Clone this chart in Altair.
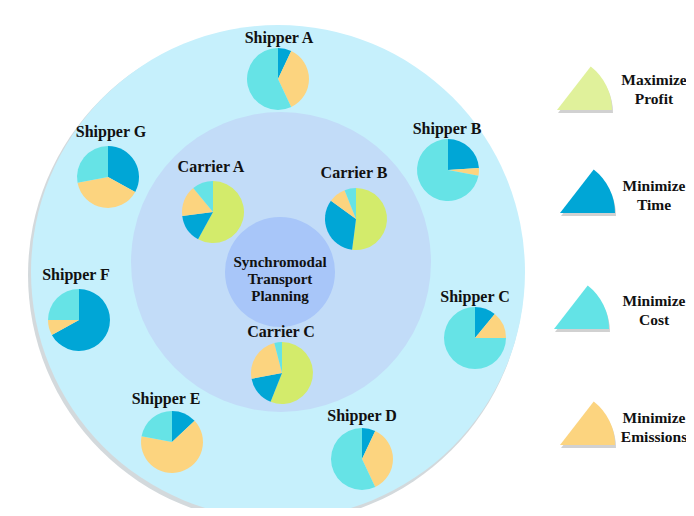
import math
import altair as alt
import pandas as pd

# ---------------- data ----------------
names = ["Shipper A", "Shipper B", "Shipper C", "Shipper D", "Shipper E",
         "Shipper F", "Shipper G", "Carrier A", "Carrier B", "Carrier C"]
objectives = ["Maximize Profit", "Minimize Time", "Minimize Emissions", "Minimize Cost"]
profit    = [0, 0, 0, 0, 0, 0, 0, 58, 52, 56]
time_     = [7, 24, 11, 7, 13, 67, 33, 15, 33, 16]
emissions = [36, 4, 14, 36, 65, 8, 39, 16, 9, 24]
cost      = [57, 72, 75, 57, 22, 25, 28, 11, 6, 4]

legend_line1 = ["Maximize", "Minimize", "Minimize", "Minimize"]
legend_line2 = ["Profit", "Time", "Cost", "Emissions"]
center_lines = ["Synchromodal", "Transport", "Planning"]

# ---------------- layout (reference pixel coordinates) ----------------
pie_x   = [278, 448, 475, 362, 172, 79, 108, 213, 356, 282]
pie_y   = [79, 170, 338, 459, 442, 320, 177, 212, 219, 373]
label_x = [279, 447, 475, 362, 166, 76, 111, 211, 354, 281]
label_y = [38, 129, 297, 416, 399, 275, 132, 167, 173, 332]
pie_r = 31

ring_x = [276, 278, 281, 280]
ring_y = [275, 272, 262, 272]
ring_r = [248, 247, 150, 55]
ring_col = ["#d3d9dc", "#c6f0fc", "#c2dcf8", "#a8c6f9"]

leg_x = [557, 560, 554, 560]
leg_y = [110, 213, 329, 445]
leg_text_x = 654
leg_text_y1 = [80, 186, 301, 418]
leg_text_y2 = [99, 205, 320, 437]
leg_col = ["#e0f19b", "#00a6d6", "#63e3e6", "#fcd47f"]
leg_r = 55

center_text_y = [262, 279, 296]

obj_colors = {"Maximize Profit": "#d3eb6b", "Minimize Time": "#00a6d6",
              "Minimize Emissions": "#fcd47f", "Minimize Cost": "#66e3e6"}

W, H = 678, 500
FONT = "Liberation Serif"

xs = alt.Scale(domain=[8, 8 + W], nice=False, zero=False)
ys = alt.Scale(domain=[8, 8 + H], nice=False, zero=False, reverse=True)

def X(f):
    return alt.X(f, type="quantitative", scale=xs, axis=None)

def Y(f):
    return alt.Y(f, type="quantitative", scale=ys, axis=None)

# background rings
rings = pd.DataFrame({"x": ring_x, "y": ring_y, "r": ring_r, "col": ring_col})
ring_layer = alt.Chart(rings).mark_arc(theta=0, theta2=2 * math.pi).encode(
    x=X("x"), y=Y("y"),
    radius=alt.Radius("r:Q", scale=None, stack=None),
    color=alt.Color("col:N", scale=None),
)

# pies
rows = []
for i, n in enumerate(names):
    vals = [profit[i], time_[i], emissions[i], cost[i]]
    for k, (obj, v) in enumerate(zip(objectives, vals)):
        rows.append({"name": n, "obj": obj, "k": k, "v": v,
                     "x": pie_x[i], "y": pie_y[i], "col": obj_colors[obj]})
pies = pd.DataFrame(rows)

pie_layer = alt.Chart(pies).transform_joinaggregate(
    total="sum(v)", groupby=["name"]
).transform_window(
    cum="sum(v)", groupby=["name"], sort=[alt.SortField("k")], frame=[None, 0]
).transform_calculate(
    t0="(datum.cum - datum.v) / datum.total * 2 * PI",
    t1="datum.cum / datum.total * 2 * PI",
).mark_arc(radius=pie_r).encode(
    x=X("x"), y=Y("y"),
    theta=alt.Theta("t0:Q", scale=None, stack=None),
    theta2=alt.Theta2("t1:Q"),
    color=alt.Color("col:N", scale=None),
)

labels = pd.DataFrame({"name": names, "x": label_x, "y": label_y})
label_layer = alt.Chart(labels).mark_text(
    font=FONT, fontWeight="bold", fontSize=16, color="#111111",
    baseline="middle", align="center"
).encode(x=X("x"), y=Y("y"), text="name:N")

centre = pd.DataFrame({"t": center_lines, "x": [280] * 3, "y": center_text_y})
centre_layer = alt.Chart(centre).mark_text(
    font=FONT, fontWeight="bold", fontSize=15, color="#111111",
    baseline="middle", align="center"
).encode(x=X("x"), y=Y("y"), text="t:N")

# legend wedges
leg = pd.DataFrame({"x": leg_x, "y": leg_y, "col": leg_col,
                    "sx": [v + 1 for v in leg_x], "sy": [v + 3 for v in leg_y]})
leg_shadow = alt.Chart(leg).mark_arc(
    radius=leg_r, theta=0.66, theta2=math.pi / 2, color="#9a9a9a", opacity=0.45
).encode(x=X("sx"), y=Y("sy"))
leg_layer = alt.Chart(leg).mark_arc(
    radius=leg_r, theta=0.66, theta2=math.pi / 2
).encode(x=X("x"), y=Y("y"), color=alt.Color("col:N", scale=None))

lt = pd.DataFrame({
    "t": legend_line1 + legend_line2,
    "x": [leg_text_x] * 8,
    "y": leg_text_y1 + leg_text_y2,
})
leg_text = alt.Chart(lt).mark_text(
    font=FONT, fontWeight="bold", fontSize=15.5, color="#111111",
    baseline="middle", align="center"
).encode(x=X("x"), y=Y("y"), text="t:N")

chart = alt.layer(
    ring_layer, pie_layer, label_layer, centre_layer, leg_shadow, leg_layer, leg_text
).properties(
    width=W, height=H, padding=0, autosize=alt.AutoSizeParams(type="none"),
    background="white"
).configure_view(stroke=None)

chart.save("out.html", embed_options={"renderer": "svg", "actions": False})
